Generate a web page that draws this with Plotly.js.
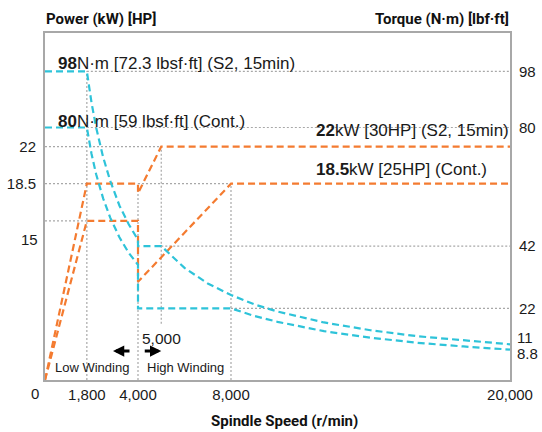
<!DOCTYPE html>
<html>
<head>
<meta charset="utf-8">
<script src="https://cdn.plot.ly/plotly-3.0.1.min.js"></script>
<style>html,body{margin:0;padding:0;background:#fff;}#chart{width:542px;height:432px;}</style>
</head>
<body>
<div id="chart"></div>
<script>
// ---- Data ----
// Output power [kW] vs spindle speed [r/min]
const s2PowerRpm   = [0, 1800, 4000, 4000, 5000, 20000];
const s2PowerKw    = [0, 18.5, 18.5, 17.6, 22, 22];
const contPowerRpm = [0, 1800, 4000, 4000, 8000, 20000];
const contPowerKw  = [0, 15, 15, 9.25, 18.5, 18.5];

// Torque [N·m] vs spindle speed [r/min]
const s2TorqueRpm   = [0, 1800, 2000, 2200, 2500, 2800, 3200, 3600, 4000, 4000, 5000, 6000, 7000, 8000, 9000, 10000, 12000, 14000, 16000, 18000, 20000];
const s2TorqueNm    = [98, 98, 88, 80, 70.5, 63, 55, 49, 44, 42, 42, 35, 30, 26.3, 23.3, 21, 17.5, 15, 13.1, 11.7, 10.5];
const contTorqueRpm = [0, 1800, 2000, 2200, 2500, 2800, 3200, 3600, 4000, 4000, 8000, 9000, 10000, 12000, 14000, 16000, 18000, 20000];
const contTorqueNm  = [80, 80, 71.6, 65, 57.3, 51.2, 44.8, 39.8, 36, 22, 22, 19.6, 17.7, 14.7, 12.6, 11, 9.8, 8.8];

// Tick values and labels
const rpmTicks        = [1800, 4000, 8000, 20000];
const rpmTickLabels   = ['1,800', '4,000', '8,000', '20,000'];
const powerTicks      = [18.5, 22];
const powerTickLabels = ['18.5', '22'];
const torqueTicks     = [98, 80, 42, 22];
const torqueTickLabels= ['98', '80', '42', '22'];

// Key operating points (named from the series)
const nBaseLow   = s2PowerRpm[1];      // 1,800
const nSwitch    = s2PowerRpm[2];      // 4,000
const nBaseS2Hi  = s2PowerRpm[4];      // 5,000
const nBaseConHi = contPowerRpm[4];    // 8,000
const nMax       = s2PowerRpm[5];      // 20,000
const pS2Low  = s2PowerKw[1], pS2Hi = s2PowerKw[4];
const pConLow = contPowerKw[1], pConHi = contPowerKw[4];
const tS2Low  = s2TorqueNm[0], tConLow = contTorqueNm[0];
const tS2Hi   = s2TorqueNm[9], tConHi = contTorqueNm[9];

// ---- Styling ----
const ORANGE = '#F47B30';
const CYAN = '#2EC3D9';
const GRID = '#a8a8a8';
const DASH = '7px,4px';
const TXT = 'Liberation Sans, Arial, sans-serif';
const TITLE_FONT = {family: 'Roboto, sans-serif', size: 15, color: '#111', weight: 700};
const Y2_RANGE = [-0.95, 110.3];

function tr(x, y, color, axis) {
  return {x: x, y: y, yaxis: axis, type: 'scatter', mode: 'lines', hoverinfo: 'skip', showlegend: false,
          line: {color: color, width: 2.2, dash: DASH}};
}
const data = [
  tr(contTorqueRpm, contTorqueNm, CYAN, 'y2'),
  tr(s2TorqueRpm, s2TorqueNm, CYAN, 'y2'),
  tr(contPowerRpm, contPowerKw, ORANGE, 'y'),
  tr(s2PowerRpm, s2PowerKw, ORANGE, 'y')
];

function ref(x0, x1, y0, y1, yref) {
  return {type: 'line', xref: 'x', yref: yref, x0: x0, x1: x1, y0: y0, y1: y1, layer: 'below',
          line: {color: GRID, width: 1.2, dash: '2px,2px'}};
}
const shapes = [
  ref(nBaseLow, nMax, tS2Low, tS2Low, 'y2'),
  ref(nBaseLow, nMax, tConLow, tConLow, 'y2'),
  ref(0, nBaseS2Hi, pS2Hi, pS2Hi, 'y'),
  ref(0, nBaseLow, pS2Low, pS2Low, 'y'),
  ref(nSwitch, nBaseConHi, pConHi, pConHi, 'y'),
  ref(0, nBaseLow, pConLow, pConLow, 'y'),
  ref(nBaseS2Hi, nMax, tS2Hi, tS2Hi, 'y2'),
  ref(nBaseConHi, nMax, tConHi, tConHi, 'y2'),
  ref(nBaseLow, nBaseLow, Y2_RANGE[0], tS2Low, 'y2'),
  ref(nSwitch, nSwitch, 0, pS2Low, 'y'),
  ref(nBaseS2Hi, nBaseS2Hi, 5.3, pS2Hi, 'y'),
  ref(nBaseConHi, nBaseConHi, 0, pConHi, 'y')
];

function note(text, opts) {
  return Object.assign({text: text, showarrow: false, font: {family: TXT, size: 17, color: '#1a1a1a'}}, opts);
}
const annotations = [
  note('Power (kW) [HP]', {xref: 'paper', x: 0, xanchor: 'left', xshift: -1, yref: 'paper', y: 1, yanchor: 'middle', yshift: 14, font: TITLE_FONT}),
  note('Torque (N·m) [lbf·ft]', {xref: 'paper', x: 1, xanchor: 'right', xshift: 1, yref: 'paper', y: 1, yanchor: 'middle', yshift: 14, font: TITLE_FONT}),
  note('Spindle Speed (r/min)', {xref: 'paper', x: 0.514, xanchor: 'center', yref: 'paper', y: 0, yanchor: 'middle', yshift: -41, font: TITLE_FONT}),
  note('0', {xref: 'x', x: 0, xanchor: 'center', xshift: -10.5, yref: 'paper', y: 0, yanchor: 'middle', yshift: -13, font: {family: TXT, size: 15, color: '#1a1a1a'}}),
  note('15', {xref: 'paper', x: 0, xanchor: 'right', xshift: -5, yref: 'y', y: pConLow, yanchor: 'middle', yshift: -18.5, font: {family: TXT, size: 15, color: '#1a1a1a'}}),
  note('11', {xref: 'paper', x: 1, xanchor: 'left', xshift: 5, yref: 'y2', y: 11, yanchor: 'middle', yshift: 5.5, font: {family: TXT, size: 15, color: '#1a1a1a'}}),
  note('8.8', {xref: 'paper', x: 1, xanchor: 'left', xshift: 5, yref: 'y2', y: contTorqueNm[contTorqueNm.length - 1], yanchor: 'middle', yshift: -4, font: {family: TXT, size: 15, color: '#1a1a1a'}}),
  note('<b>98</b>N·m [72.3 lbsf·ft] (S2, 15min)', {xref: 'x', x: 470, xanchor: 'left', yref: 'y2', y: tS2Low, yanchor: 'middle', yshift: 8.3}),
  note('<b>80</b>N·m [59 lbsf·ft] (Cont.)', {xref: 'x', x: 470, xanchor: 'left', yref: 'y2', y: tConLow, yanchor: 'middle', yshift: 5.7}),
  note('<b>22</b>kW [30HP] (S2, 15min)', {xref: 'x', x: 11550, xanchor: 'left', yref: 'y', y: pS2Hi, yanchor: 'middle', yshift: 15.6}),
  note('<b>18.5</b>kW [25HP] (Cont.)', {xref: 'x', x: 11550, xanchor: 'left', yref: 'y', y: pConHi, yanchor: 'middle', yshift: 13.7}),
  note('5,000', {xref: 'x', x: nBaseS2Hi, xanchor: 'center', yref: 'y', y: 0, yanchor: 'middle', yshift: 42, font: {family: TXT, size: 15.5, color: '#1a1a1a'}}),
  note('Low Winding', {xref: 'x', x: nSwitch, xanchor: 'right', xshift: -7, yref: 'y', y: 0, yanchor: 'middle', yshift: 12.3, font: {family: TXT, size: 13, color: '#1a1a1a'}}),
  note('High Winding', {xref: 'x', x: nSwitch, xanchor: 'left', xshift: 7, yref: 'y', y: 0, yanchor: 'middle', yshift: 12.3, font: {family: TXT, size: 13, color: '#1a1a1a'}}),
  {text: '', showarrow: true, xref: 'x', x: nSwitch, xshift: -25, yref: 'y', y: 0, yshift: 29, ax: 18, ay: 0,
   arrowhead: 2, arrowsize: 0.75, arrowwidth: 3, arrowcolor: '#000', standoff: 0, startstandoff: 0},
  {text: '', showarrow: true, xref: 'x', x: nBaseS2Hi, xshift: 0, yref: 'y', y: 0, yshift: 29, ax: -18, ay: 0,
   arrowhead: 2, arrowsize: 0.75, arrowwidth: 3, arrowcolor: '#000', standoff: 0, startstandoff: 0}
];

const layout = {
  width: 542, height: 432,
  margin: {l: 45, r: 32, t: 33, b: 52, pad: 0},
  paper_bgcolor: '#fff', plot_bgcolor: '#fff',
  showlegend: false,
  font: {family: TXT, size: 15, color: '#1a1a1a'},
  xaxis: {range: [0, nMax], tickvals: rpmTicks, ticktext: rpmTickLabels, ticks: '', showgrid: false, zeroline: false,
          showline: true, mirror: true, linecolor: GRID, linewidth: 2, tickfont: {family: TXT, size: 15}, fixedrange: true},
  yaxis: {range: [0, 32.7], tickvals: powerTicks, ticktext: powerTickLabels, ticks: '', showgrid: false, zeroline: false,
          showline: true, linecolor: GRID, linewidth: 2, tickfont: {family: TXT, size: 15}, ticklabelshift: 2.6, ticklabelstandoff: 4},
  yaxis2: {range: Y2_RANGE, overlaying: 'y', side: 'right', tickvals: torqueTicks, ticktext: torqueTickLabels, ticks: '',
           showgrid: false, zeroline: false, showline: true, linecolor: GRID, linewidth: 2, tickfont: {family: TXT, size: 15},
           ticklabelshift: 5.5, ticklabelstandoff: 4},
  shapes: shapes,
  annotations: annotations
};

Plotly.newPlot('chart', data, layout, {displayModeBar: false, staticPlot: true});
</script>
</body>
</html>
